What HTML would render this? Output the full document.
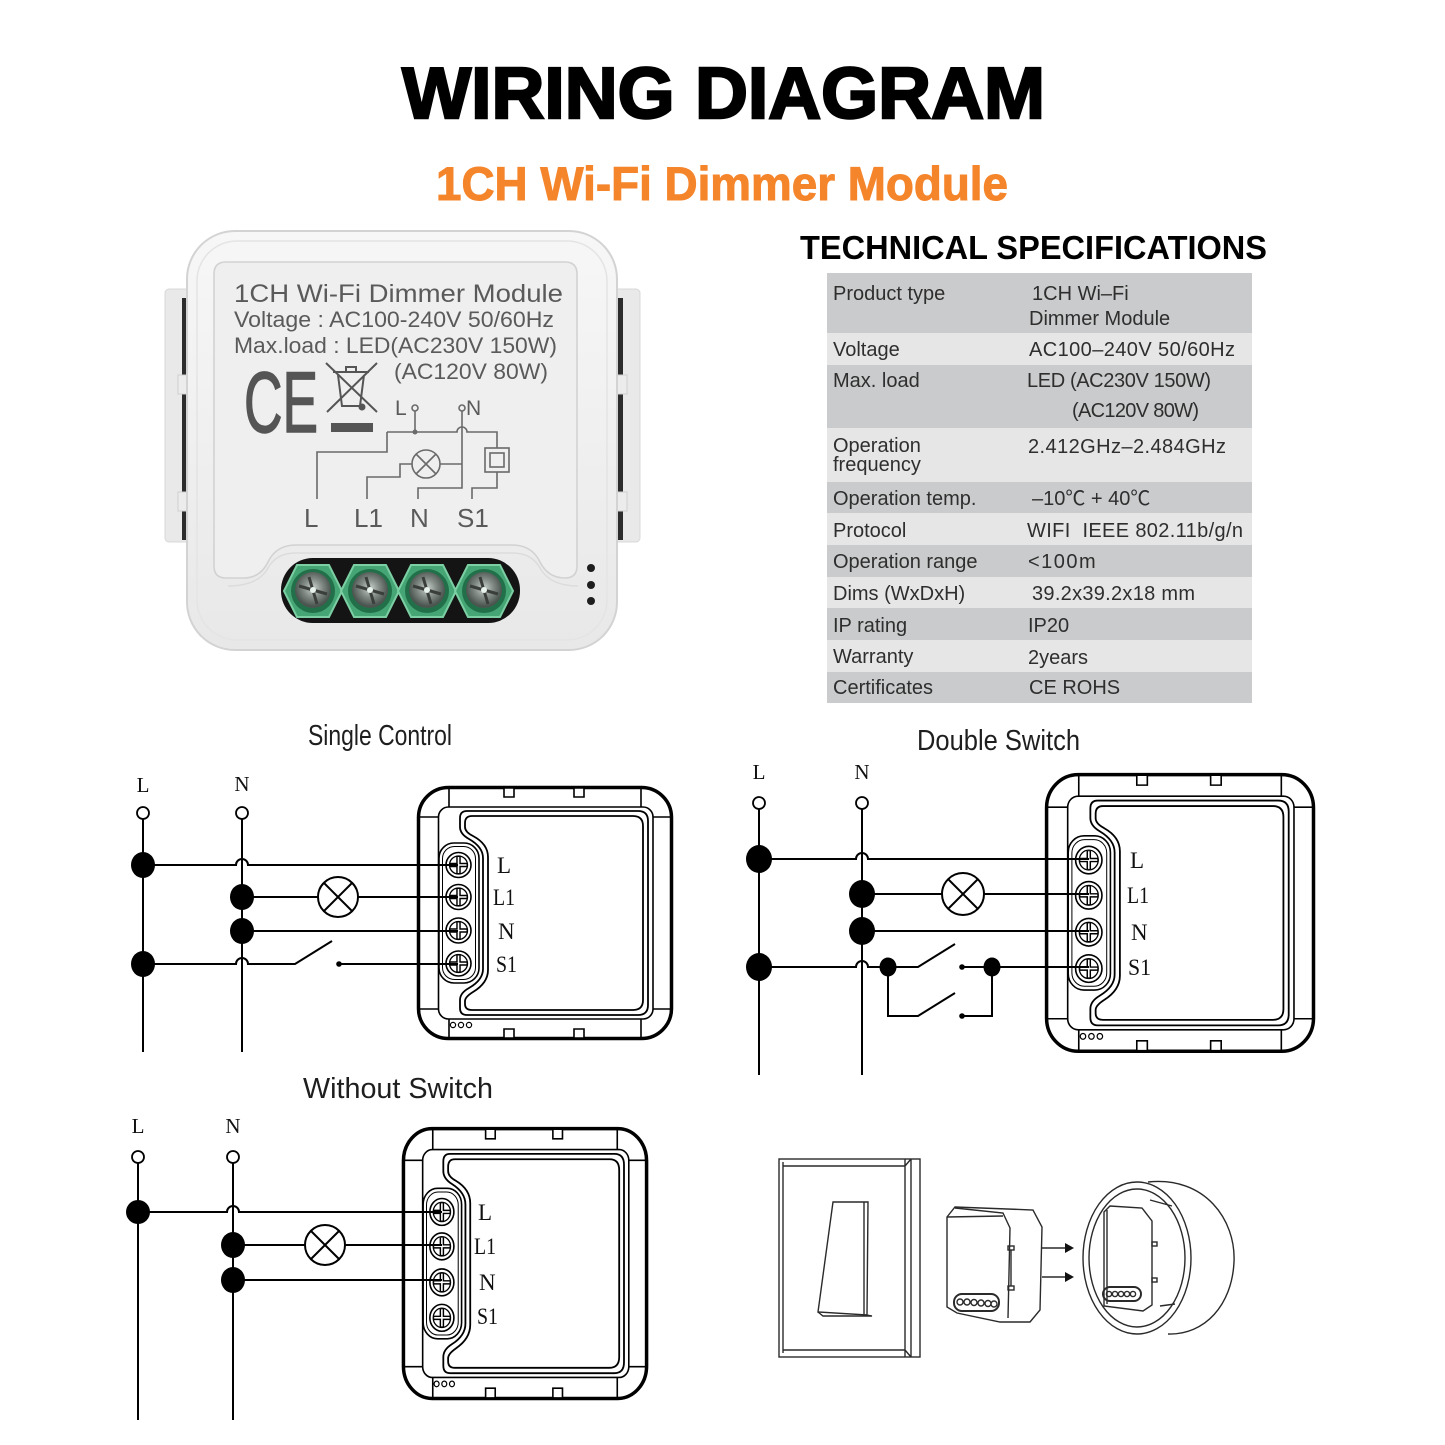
<!DOCTYPE html>
<html><head><meta charset="utf-8"><style>
html,body{margin:0;padding:0;background:#fff;}
svg{display:block;}
.mod *{vector-effect:non-scaling-stroke;}
</style></head><body>
<svg width="1445" height="1445" viewBox="0 0 1445 1445" xmlns="http://www.w3.org/2000/svg">
<defs>
<linearGradient id="bodyG" x1="0" y1="0" x2="0" y2="1"><stop offset="0" stop-color="#f7f7f7"/><stop offset="1" stop-color="#e8e8e8"/></linearGradient>
<radialGradient id="screwG" cx="0.5" cy="0.45" r="0.5"><stop offset="0" stop-color="#c9d2cc"/><stop offset="0.5" stop-color="#858d88"/><stop offset="1" stop-color="#4b5550"/></radialGradient>
</defs>
<rect width="1445" height="1445" fill="#fff"/>

<!-- Titles -->
<text x="723.5" y="118" text-anchor="middle" font-family="Liberation Sans, sans-serif" font-weight="bold" font-size="72" textLength="643" lengthAdjust="spacingAndGlyphs" fill="#000" stroke="#000" stroke-width="2.4">WIRING DIAGRAM</text>
<text x="722" y="200" text-anchor="middle" font-family="Liberation Sans, sans-serif" font-weight="bold" font-size="47" textLength="572" lengthAdjust="spacingAndGlyphs" fill="#f5852b" stroke="#f5852b" stroke-width="1">1CH Wi-Fi Dimmer Module</text>
<text x="800" y="259" font-family="Liberation Sans, sans-serif" font-weight="bold" font-size="33" textLength="467" lengthAdjust="spacingAndGlyphs" fill="#000">TECHNICAL SPECIFICATIONS</text>

<!-- Spec table -->
<g>
<rect x="827" y="273" width="425" height="60" fill="#cacbcc"/>
<rect x="827" y="333" width="425" height="32" fill="#e6e6e7"/>
<rect x="827" y="365" width="425" height="63" fill="#cacbcc"/>
<rect x="827" y="428" width="425" height="54" fill="#e6e6e7"/>
<rect x="827" y="482" width="425" height="31" fill="#cacbcc"/>
<rect x="827" y="513" width="425" height="32" fill="#e6e6e7"/>
<rect x="827" y="545" width="425" height="32" fill="#cacbcc"/>
<rect x="827" y="577" width="425" height="31" fill="#e6e6e7"/>
<rect x="827" y="608" width="425" height="32" fill="#cacbcc"/>
<rect x="827" y="640" width="425" height="32" fill="#e6e6e7"/>
<rect x="827" y="672" width="425" height="31" fill="#cacbcc"/>
</g>
<g font-family="Liberation Sans, 'Noto Sans CJK SC', sans-serif" font-size="20" fill="#2e2e2e">
<text x="833" y="300">Product type</text>
<text x="1032" y="300">1CH Wi–Fi</text>
<text x="1029" y="325">Dimmer Module</text>
<text x="833" y="356">Voltage</text>
<text x="1029" y="356" textLength="206">AC100–240V 50/60Hz</text>
<text x="833" y="387">Max. load</text>
<text x="1027" y="387" textLength="184">LED (AC230V 150W)</text>
<text x="1072" y="417" textLength="127">(AC120V 80W)</text>
<text x="833" y="452">Operation</text>
<text x="833" y="471">frequency</text>
<text x="1028" y="453" textLength="198">2.412GHz–2.484GHz</text>
<text x="833" y="505">Operation temp.</text>
<text x="1032" y="505">–10℃ + 40℃</text>
<text x="833" y="537">Protocol</text>
<text x="1027" y="537" textLength="216" xml:space="preserve">WIFI  IEEE 802.11b/g/n</text>
<text x="833" y="568">Operation range</text>
<text x="1028" y="568" letter-spacing="1.5">&lt;100m</text>
<text x="833" y="600">Dims (WxDxH)</text>
<text x="1032" y="600" textLength="163">39.2x39.2x18 mm</text>
<text x="833" y="632">IP rating</text>
<text x="1028" y="632">IP20</text>
<text x="833" y="663">Warranty</text>
<text x="1028" y="664">2years</text>
<text x="833" y="694">Certificates</text>
<text x="1029" y="694">CE ROHS</text>
</g>

<!-- Product image -->
<g>
<!-- flanges -->
<rect x="165" y="289" width="30" height="253" rx="4" fill="#e9e9e9" stroke="#d8d8d8"/>
<rect x="182" y="298" width="10" height="242" fill="#2c2c2c"/>
<rect x="178" y="375" width="17" height="19" fill="#ececec" stroke="#cfcfcf"/>
<rect x="178" y="492" width="17" height="19" fill="#ececec" stroke="#cfcfcf"/>
<rect x="610" y="289" width="30" height="253" rx="4" fill="#e9e9e9" stroke="#d8d8d8"/>
<rect x="613" y="298" width="10" height="242" fill="#2c2c2c"/>
<rect x="610" y="375" width="17" height="19" fill="#ececec" stroke="#cfcfcf"/>
<rect x="610" y="492" width="17" height="19" fill="#ececec" stroke="#cfcfcf"/>
<!-- body -->
<rect x="187" y="231" width="430" height="419" rx="48" fill="url(#bodyG)" stroke="#d3d3d3" stroke-width="2"/>
<rect x="197" y="241" width="410" height="399" rx="40" fill="none" stroke="#e4e4e4" stroke-width="1.5"/>
<!-- panel -->
<path d="M226 262H565Q577 262 577 274V566Q577 578 565 578Q548 578 540 562Q532 545 512 545H296Q276 545 268 562Q260 578 244 578H226Q214 578 214 566V274Q214 262 226 262Z" fill="#efefef" stroke="#d2d2d2" stroke-width="1.6"/>
<path d="M228 586Q258 586 268 568Q276 553 296 553H512Q532 553 540 568Q550 586 578 586" fill="none" stroke="#dcdcdc" stroke-width="1.5"/>
<!-- label text -->
<g font-family="Liberation Sans, sans-serif" fill="#5a5a5a">
<text x="234" y="302" font-size="25" textLength="329" lengthAdjust="spacingAndGlyphs">1CH Wi-Fi Dimmer Module</text>
<text x="234" y="327" font-size="22" textLength="320" lengthAdjust="spacingAndGlyphs">Voltage : AC100-240V 50/60Hz</text>
<text x="234" y="353" font-size="22" textLength="323" lengthAdjust="spacingAndGlyphs">Max.load : LED(AC230V 150W)</text>
<text x="394" y="379" font-size="22" textLength="154" lengthAdjust="spacingAndGlyphs">(AC120V 80W)</text>
<text x="244" y="432" font-size="86" textLength="74" lengthAdjust="spacingAndGlyphs" fill="#555" stroke="#555" stroke-width="1.5">CE</text>
<text x="395" y="415" font-size="21">L</text>
<text x="466" y="415" font-size="21">N</text>
<text x="304" y="527" font-size="26">L</text>
<text x="354" y="527" font-size="26">L1</text>
<text x="410" y="527" font-size="26">N</text>
<text x="457" y="527" font-size="26">S1</text>
</g>
<!-- trash icon -->
<g stroke="#555" stroke-width="2" fill="none">
<path d="M326 363L377 412M377 363L327 412"/>
<path d="M333 372H369M346 372V367H356V372"/>
<path d="M338 375L342 406H360L364 375"/>
<circle cx="362" cy="407" r="2.5" fill="#555"/>
</g>
<rect x="331" y="423" width="42" height="9" fill="#555"/>
<!-- label circuit -->
<g stroke="#6a6a6a" stroke-width="1.6" fill="none">
<circle cx="415" cy="408" r="3"/>
<circle cx="462" cy="408" r="3"/>
<path d="M415 411V432"/>
<path d="M387 432H457A5 5 0 0 1 467 432H497V448"/>
<rect x="485" y="448" width="24" height="24"/>
<rect x="490" y="453" width="14" height="14"/>
<path d="M497 472V488H472V499"/>
<path d="M462 411V488H418V499"/>
<path d="M387 432V452H317V499"/>
<circle cx="426" cy="464" r="14"/>
<path d="M416 454L436 474M436 454L416 474"/>
<path d="M412 464H400V477H367V499"/>
<path d="M440 464H462"/>
</g>
<circle cx="415" cy="432" r="2.5" fill="#6a6a6a"/>
<!-- terminal -->
<rect x="281" y="558" width="239" height="65" rx="32" fill="#141414"/>
<g fill="#45a574" stroke="#7ccfa3" stroke-width="2">
<polygon points="284,591 297,565 329,565 342,591 329,617 297,617"/>
<polygon points="341,591 354,565 386,565 399,591 386,617 354,617"/>
<polygon points="398,591 411,565 443,565 456,591 443,617 411,617"/>
<polygon points="455,591 468,565 500,565 513,591 500,617 468,617"/>
</g>
<g>
<circle cx="313" cy="591" r="22" fill="#22704a"/><circle cx="313" cy="590" r="18" fill="url(#screwG)"/>
<circle cx="370" cy="591" r="22" fill="#22704a"/><circle cx="370" cy="590" r="18" fill="url(#screwG)"/>
<circle cx="427" cy="591" r="22" fill="#22704a"/><circle cx="427" cy="590" r="18" fill="url(#screwG)"/>
<circle cx="484" cy="591" r="22" fill="#22704a"/><circle cx="484" cy="590" r="18" fill="url(#screwG)"/>
</g>
<g stroke="#3a3f3c" stroke-width="3">
<path d="M299 586L327 594M309 577L317 604"/>
<path d="M356 586L384 594M366 577L374 604"/>
<path d="M413 586L441 594M423 577L431 604"/>
<path d="M470 586L498 594M480 577L488 604"/>
</g>
<g fill="#e8f2ec"><circle cx="313" cy="590" r="3"/><circle cx="370" cy="590" r="3"/><circle cx="427" cy="590" r="3"/><circle cx="484" cy="590" r="3"/></g>
<g fill="#1e1e1e"><circle cx="591" cy="568" r="4"/><circle cx="591" cy="585" r="4"/><circle cx="591" cy="601" r="4"/></g>
</g>

<!-- Diagram titles -->
<g font-family="Liberation Sans, sans-serif" font-size="29" fill="#1e1e1e">
<text x="308" y="745" textLength="144" lengthAdjust="spacingAndGlyphs">Single Control</text>
<text x="917" y="750" textLength="163" lengthAdjust="spacingAndGlyphs">Double Switch</text>
<text x="303" y="1098" textLength="190" lengthAdjust="spacingAndGlyphs">Without Switch</text>
</g>

<!-- Module drawings -->
<g transform="translate(417,786)">
<g class="mod" fill="none" stroke="#000">
<rect x="1.5" y="1.5" width="253" height="251" rx="30" fill="#fff" stroke-width="3.5"/>
<path d="M32 2V21M224 2V21M32 233V252M224 233V252M2 31H21.5M2 223H21.5M236 31H254M236 223H254" stroke-width="1.6"/>
<rect x="87" y="2" width="10" height="9" fill="#fff" stroke-width="1.6"/>
<rect x="157" y="2" width="10" height="9" fill="#fff" stroke-width="1.6"/>
<rect x="87" y="243" width="10" height="9" fill="#fff" stroke-width="1.6"/>
<rect x="157" y="243" width="10" height="9" fill="#fff" stroke-width="1.6"/>
<rect x="21.5" y="21" width="214.5" height="212" rx="10" stroke-width="1.6"/>
<path d="M50 25H221Q231 25 231 35V219Q231 229 221 229H50Q43 229 43 222V214Q43 207 52 202Q66 194 66 183V72Q66 61 52 53Q43 48 43 41V32Q43 25 50 25Z" stroke-width="1.8"/>
<path d="M55 30H216Q226 30 226 40V214Q226 224 216 224H55Q48 224 48 218V215Q48 211 56 206Q71 197 71 184V71Q71 58 56 50Q48 46 48 41V37Q48 30 55 30Z" stroke-width="1.8"/>
<rect x="22" y="57" width="40" height="140" rx="15" fill="#fff" stroke-width="1.6"/>
<rect x="25.5" y="60.5" width="33" height="133" rx="12" stroke-width="1"/>
<circle cx="41.5" cy="79" r="12.5" fill="#fff" stroke-width="1.6"/><circle cx="41.5" cy="79" r="9" stroke-width="1.3"/>
<path d="M41.5 70.5V87.5M33 79H50" stroke-width="4.5"/><path d="M41.5 71V87M33.5 79H49.5" stroke="#fff" stroke-width="1.6"/>
<circle cx="41.5" cy="111" r="12.5" fill="#fff" stroke-width="1.6"/><circle cx="41.5" cy="111" r="9" stroke-width="1.3"/>
<path d="M41.5 102.5V119.5M33 111H50" stroke-width="4.5"/><path d="M41.5 103V119M33.5 111H49.5" stroke="#fff" stroke-width="1.6"/>
<circle cx="41.5" cy="144.5" r="12.5" fill="#fff" stroke-width="1.6"/><circle cx="41.5" cy="144.5" r="9" stroke-width="1.3"/>
<path d="M41.5 136V153M33 144.5H50" stroke-width="4.5"/><path d="M41.5 136.5V152.5M33.5 144.5H49.5" stroke="#fff" stroke-width="1.6"/>
<circle cx="41.5" cy="177.5" r="12.5" fill="#fff" stroke-width="1.6"/><circle cx="41.5" cy="177.5" r="9" stroke-width="1.3"/>
<path d="M41.5 169V186M33 177.5H50" stroke-width="4.5"/><path d="M41.5 169.5V185.5M33.5 177.5H49.5" stroke="#fff" stroke-width="1.6"/>
<circle cx="36" cy="239" r="2.6" stroke-width="1.2"/><circle cx="44" cy="239" r="2.6" stroke-width="1.2"/><circle cx="52" cy="239" r="2.6" stroke-width="1.2"/>
</g></g>

<g transform="translate(1045,773) scale(1.055,1.102)">
<g class="mod" fill="none" stroke="#000">
<rect x="1.5" y="1.5" width="253" height="251" rx="30" fill="#fff" stroke-width="3.5"/>
<path d="M32 2V21M224 2V21M32 233V252M224 233V252M2 31H21.5M2 223H21.5M236 31H254M236 223H254" stroke-width="1.6"/>
<rect x="87" y="2" width="10" height="9" fill="#fff" stroke-width="1.6"/>
<rect x="157" y="2" width="10" height="9" fill="#fff" stroke-width="1.6"/>
<rect x="87" y="243" width="10" height="9" fill="#fff" stroke-width="1.6"/>
<rect x="157" y="243" width="10" height="9" fill="#fff" stroke-width="1.6"/>
<rect x="21.5" y="21" width="214.5" height="212" rx="10" stroke-width="1.6"/>
<path d="M50 25H221Q231 25 231 35V219Q231 229 221 229H50Q43 229 43 222V214Q43 207 52 202Q66 194 66 183V72Q66 61 52 53Q43 48 43 41V32Q43 25 50 25Z" stroke-width="1.8"/>
<path d="M55 30H216Q226 30 226 40V214Q226 224 216 224H55Q48 224 48 218V215Q48 211 56 206Q71 197 71 184V71Q71 58 56 50Q48 46 48 41V37Q48 30 55 30Z" stroke-width="1.8"/>
<rect x="22" y="57" width="40" height="140" rx="15" fill="#fff" stroke-width="1.6"/>
<rect x="25.5" y="60.5" width="33" height="133" rx="12" stroke-width="1"/>
<circle cx="41.5" cy="79" r="12.5" fill="#fff" stroke-width="1.6"/><circle cx="41.5" cy="79" r="9" stroke-width="1.3"/>
<path d="M41.5 70.5V87.5M33 79H50" stroke-width="4.5"/><path d="M41.5 71V87M33.5 79H49.5" stroke="#fff" stroke-width="1.6"/>
<circle cx="41.5" cy="111" r="12.5" fill="#fff" stroke-width="1.6"/><circle cx="41.5" cy="111" r="9" stroke-width="1.3"/>
<path d="M41.5 102.5V119.5M33 111H50" stroke-width="4.5"/><path d="M41.5 103V119M33.5 111H49.5" stroke="#fff" stroke-width="1.6"/>
<circle cx="41.5" cy="144.5" r="12.5" fill="#fff" stroke-width="1.6"/><circle cx="41.5" cy="144.5" r="9" stroke-width="1.3"/>
<path d="M41.5 136V153M33 144.5H50" stroke-width="4.5"/><path d="M41.5 136.5V152.5M33.5 144.5H49.5" stroke="#fff" stroke-width="1.6"/>
<circle cx="41.5" cy="177.5" r="12.5" fill="#fff" stroke-width="1.6"/><circle cx="41.5" cy="177.5" r="9" stroke-width="1.3"/>
<path d="M41.5 169V186M33 177.5H50" stroke-width="4.5"/><path d="M41.5 169.5V185.5M33.5 177.5H49.5" stroke="#fff" stroke-width="1.6"/>
<circle cx="36" cy="239" r="2.6" stroke-width="1.2"/><circle cx="44" cy="239" r="2.6" stroke-width="1.2"/><circle cx="52" cy="239" r="2.6" stroke-width="1.2"/>
</g></g>

<g transform="translate(402,1127) scale(0.961,1.075)">
<g class="mod" fill="none" stroke="#000">
<rect x="1.5" y="1.5" width="253" height="251" rx="30" fill="#fff" stroke-width="3.5"/>
<path d="M32 2V21M224 2V21M32 233V252M224 233V252M2 31H21.5M2 223H21.5M236 31H254M236 223H254" stroke-width="1.6"/>
<rect x="87" y="2" width="10" height="9" fill="#fff" stroke-width="1.6"/>
<rect x="157" y="2" width="10" height="9" fill="#fff" stroke-width="1.6"/>
<rect x="87" y="243" width="10" height="9" fill="#fff" stroke-width="1.6"/>
<rect x="157" y="243" width="10" height="9" fill="#fff" stroke-width="1.6"/>
<rect x="21.5" y="21" width="214.5" height="212" rx="10" stroke-width="1.6"/>
<path d="M50 25H221Q231 25 231 35V219Q231 229 221 229H50Q43 229 43 222V214Q43 207 52 202Q66 194 66 183V72Q66 61 52 53Q43 48 43 41V32Q43 25 50 25Z" stroke-width="1.8"/>
<path d="M55 30H216Q226 30 226 40V214Q226 224 216 224H55Q48 224 48 218V215Q48 211 56 206Q71 197 71 184V71Q71 58 56 50Q48 46 48 41V37Q48 30 55 30Z" stroke-width="1.8"/>
<rect x="22" y="57" width="40" height="140" rx="15" fill="#fff" stroke-width="1.6"/>
<rect x="25.5" y="60.5" width="33" height="133" rx="12" stroke-width="1"/>
<circle cx="41.5" cy="79" r="12.5" fill="#fff" stroke-width="1.6"/><circle cx="41.5" cy="79" r="9" stroke-width="1.3"/>
<path d="M41.5 70.5V87.5M33 79H50" stroke-width="4.5"/><path d="M41.5 71V87M33.5 79H49.5" stroke="#fff" stroke-width="1.6"/>
<circle cx="41.5" cy="111" r="12.5" fill="#fff" stroke-width="1.6"/><circle cx="41.5" cy="111" r="9" stroke-width="1.3"/>
<path d="M41.5 102.5V119.5M33 111H50" stroke-width="4.5"/><path d="M41.5 103V119M33.5 111H49.5" stroke="#fff" stroke-width="1.6"/>
<circle cx="41.5" cy="144.5" r="12.5" fill="#fff" stroke-width="1.6"/><circle cx="41.5" cy="144.5" r="9" stroke-width="1.3"/>
<path d="M41.5 136V153M33 144.5H50" stroke-width="4.5"/><path d="M41.5 136.5V152.5M33.5 144.5H49.5" stroke="#fff" stroke-width="1.6"/>
<circle cx="41.5" cy="177.5" r="12.5" fill="#fff" stroke-width="1.6"/><circle cx="41.5" cy="177.5" r="9" stroke-width="1.3"/>
<path d="M41.5 169V186M33 177.5H50" stroke-width="4.5"/><path d="M41.5 169.5V185.5M33.5 177.5H49.5" stroke="#fff" stroke-width="1.6"/>
<circle cx="36" cy="239" r="2.6" stroke-width="1.2"/><circle cx="44" cy="239" r="2.6" stroke-width="1.2"/><circle cx="52" cy="239" r="2.6" stroke-width="1.2"/>
</g></g>

<!-- Single Control wiring -->
<g fill="none" stroke="#000" stroke-width="2">
<circle cx="143" cy="813" r="6" fill="#fff" stroke-width="1.8"/>
<circle cx="242" cy="813" r="6" fill="#fff" stroke-width="1.8"/>
<path d="M143 819V1052M242 819V1052"/>
<path d="M143 865H236A6 6 0 0 1 248 865H458"/>
<path d="M242 897H318M358 897H458"/>
<circle cx="338" cy="897" r="20" fill="#fff"/>
<path d="M324 883L352 911M352 883L324 911"/>
<path d="M242 931H458"/>
<path d="M143 964H236A6 6 0 0 1 248 964H295L332 941"/>
<path d="M339 964H458"/>
</g>
<g fill="#000">
<circle cx="339" cy="964" r="2.8"/>
<ellipse cx="143" cy="865" rx="12" ry="13"/>
<ellipse cx="143" cy="964" rx="12" ry="13"/>
<ellipse cx="242" cy="897" rx="12" ry="13"/>
<ellipse cx="242" cy="931" rx="12" ry="13"/>
</g>

<!-- Double Switch wiring -->
<g fill="none" stroke="#000" stroke-width="2">
<circle cx="759" cy="803" r="6" fill="#fff" stroke-width="1.8"/>
<circle cx="862" cy="803" r="6" fill="#fff" stroke-width="1.8"/>
<path d="M759 809V1075M862 809V1075"/>
<path d="M759 859H856A6 6 0 0 1 868 859H1089"/>
<path d="M862 894H942M984 894H1089"/>
<circle cx="963" cy="894" r="21" fill="#fff"/>
<path d="M948 879L978 909M978 879L948 909"/>
<path d="M862 931H1089"/>
<path d="M759 967H856A6 6 0 0 1 868 967H918L955 944"/>
<path d="M962 967H1089"/>
<path d="M888 967V1016H918L955 993"/>
<path d="M962 1016H992V967"/>
</g>
<g fill="#000">
<circle cx="962" cy="967" r="2.8"/>
<circle cx="962" cy="1016" r="2.8"/>
<ellipse cx="888" cy="967" rx="8.5" ry="9.5"/>
<ellipse cx="992" cy="967" rx="8.5" ry="9.5"/>
<ellipse cx="759" cy="859" rx="13" ry="14"/>
<ellipse cx="759" cy="967" rx="13" ry="14"/>
<ellipse cx="862" cy="894" rx="13" ry="14"/>
<ellipse cx="862" cy="931" rx="13" ry="14"/>
</g>

<!-- Without Switch wiring -->
<g fill="none" stroke="#000" stroke-width="2">
<circle cx="138" cy="1157" r="6" fill="#fff" stroke-width="1.8"/>
<circle cx="233" cy="1157" r="6" fill="#fff" stroke-width="1.8"/>
<path d="M138 1163V1420M233 1163V1420"/>
<path d="M138 1212H227A6 6 0 0 1 239 1212H442"/>
<path d="M233 1245H305M345 1245H442"/>
<circle cx="325" cy="1245" r="20" fill="#fff"/>
<path d="M311 1231L339 1259M339 1231L311 1259"/>
<path d="M233 1280H442"/>
</g>
<g fill="#000">
<ellipse cx="138" cy="1212" rx="12" ry="12"/>
<ellipse cx="233" cy="1245" rx="12" ry="13"/>
<ellipse cx="233" cy="1280" rx="12" ry="13"/>
</g>

<!-- Serif labels -->
<g font-family="Liberation Serif, serif" font-size="21" fill="#111">
<text x="143" y="792" text-anchor="middle">L</text>
<text x="242" y="791" text-anchor="middle">N</text>
<text x="759" y="779" text-anchor="middle">L</text>
<text x="862" y="779" text-anchor="middle">N</text>
<text x="138" y="1133" text-anchor="middle">L</text>
<text x="233" y="1133" text-anchor="middle">N</text>
</g>
<g font-family="Liberation Serif, serif" font-size="23" fill="#111">
<text x="497" y="873">L</text>
<text x="493" y="905" textLength="22" lengthAdjust="spacingAndGlyphs">L1</text>
<text x="498" y="939">N</text>
<text x="496" y="972" textLength="21" lengthAdjust="spacingAndGlyphs">S1</text>
<text x="1130" y="868">L</text>
<text x="1127" y="903" textLength="22" lengthAdjust="spacingAndGlyphs">L1</text>
<text x="1131" y="940">N</text>
<text x="1128" y="975" textLength="23" lengthAdjust="spacingAndGlyphs">S1</text>
<text x="478" y="1220">L</text>
<text x="474" y="1254" textLength="22" lengthAdjust="spacingAndGlyphs">L1</text>
<text x="479" y="1290">N</text>
<text x="477" y="1324" textLength="21" lengthAdjust="spacingAndGlyphs">S1</text>
</g>

<!-- Bottom right illustration -->
<g fill="none" stroke="#2a2a2a" stroke-width="1.4">
<rect x="779" y="1159" width="141" height="198" fill="#fff"/>
<path d="M783 1162V1353M783 1166H905M783 1350H905M905 1159V1357M911 1159V1357M905 1166L911 1159M905 1350L911 1357"/>
<polygon points="833,1202 868,1202 867,1315 818,1312" fill="#fff"/>
<path d="M864 1202V1315M818 1312L823 1316H872L867 1315"/>
<!-- module -->
<polygon points="947,1217 955,1207 1033,1210 1042,1227 1040,1310 1030,1322 1000,1322 957,1313 947,1307" fill="#fff"/>
<path d="M955 1208L1003 1213L1010 1228L1008 1318M947 1217L1003 1216"/>
<rect x="1008" y="1246" width="6" height="4"/>
<rect x="1008" y="1286" width="6" height="4"/>
<path d="M1011 1250V1286"/>
<rect x="954" y="1294" width="45" height="17" rx="8" fill="#fff" stroke-width="2"/>
<circle cx="960" cy="1302" r="3"/><circle cx="967" cy="1302" r="3"/><circle cx="974" cy="1302.5" r="3"/><circle cx="981" cy="1303" r="3"/><circle cx="988" cy="1303.5" r="3"/><circle cx="994" cy="1304" r="3"/>
<!-- arrows -->
<path d="M1042 1248H1066M1042 1277H1066"/>
<!-- ring -->
<path d="M1148 1182C1205 1176 1236 1220 1234 1262C1232 1305 1205 1335 1168 1334"/>
<ellipse cx="1137" cy="1258" rx="54" ry="76" fill="#fff"/>
<ellipse cx="1137" cy="1258" rx="48" ry="69"/>
<path d="M1150 1200L1172 1206M1175 1304L1160 1306"/>
<polygon points="1104,1212 1110,1206 1142,1208 1152,1221 1152,1305 1143,1311 1104,1306" fill="#fff"/>
<path d="M1107 1210V1304"/>
<rect x="1152" y="1242" width="5" height="4"/>
<rect x="1152" y="1278" width="5" height="4"/>
<rect x="1103" y="1287" width="38" height="14" rx="7" stroke-width="2"/>
<circle cx="1109" cy="1294" r="2.6"/><circle cx="1115" cy="1294" r="2.6"/><circle cx="1121" cy="1294" r="2.6"/><circle cx="1127" cy="1294" r="2.6"/><circle cx="1133" cy="1294" r="2.6"/>
</g>
<g fill="#111">
<polygon points="1065,1243 1074,1248 1065,1253"/>
<polygon points="1065,1272 1074,1277 1065,1282"/>
</g>
</svg>
</body></html>
